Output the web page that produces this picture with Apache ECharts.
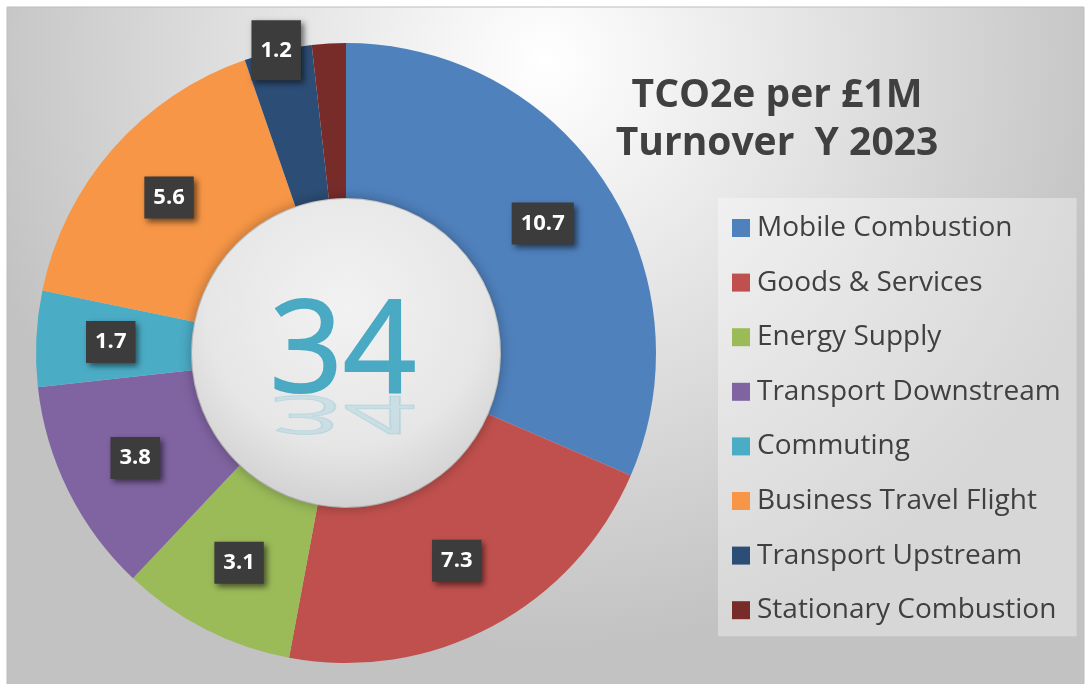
<!DOCTYPE html>
<html>
<head>
<meta charset="utf-8">
<script src="https://cdn.jsdelivr.net/npm/echarts@6/dist/echarts.min.js"></script>
<style>
  html, body { margin: 0; padding: 0; background: #ffffff; }
  #chart { width: 1088px; height: 684px; }
</style>
</head>
<body>
<div id="chart"></div>
<script>
// 数据
const categories = ['Mobile Combustion', 'Goods & Services', 'Energy Supply', 'Transport Downstream',
    'Commuting', 'Business Travel Flight', 'Transport Upstream', 'Stationary Combustion'];
const values = [10.7, 7.3, 3.1, 3.8, 1.7, 5.6, 1.2, 0.6];
const colors = ['#4f81bd', '#c0504d', '#9bbb59', '#8064a2', '#4bacc6', '#f79646', '#2c4d75', '#772c2a'];
const titleLines = ['TCO2e per £1M', 'Turnover  Y 2023'];

const myChart = echarts.init(document.getElementById('chart'));

const total = Math.round(values.reduce((s, v) => s + v, 0));

const pieData = categories.map((name, i) => {
    const item = { name: name, value: values[i], itemStyle: { color: colors[i] } };
    if (name === 'Stationary Combustion') item.label = { show: false };
    if (name === 'Transport Upstream') item.label = { offset: [-18, -73], padding: [17, 9, 17, 9] };
    return item;
});

const cx = 346, cy = 353;

const option = {
    backgroundColor: '#ffffff',
    title: {
        text: titleLines.join('\n'),
        left: 772,
        top: 67,
        textAlign: 'center',
        textStyle: {
            fontFamily: 'Open Sans',
            fontWeight: 'bold',
            fontSize: 39,
            lineHeight: 48,
            color: '#404040'
        }
    },
    legend: {
        orient: 'vertical',
        left: 718,
        top: 198,
        icon: 'rect',
        itemWidth: 18,
        itemHeight: 18,
        itemGap: 24.6,
        padding: [15, 16, 11, 14],
        backgroundColor: 'rgba(255,255,255,0.35)',
        textStyle: {
            fontFamily: 'Open Sans',
            fontSize: 28,
            lineHeight: 30,
            color: '#404040',
            padding: [0, 0, 0, 2]
        },
        data: categories
    },
    graphic: [
        {
            type: 'rect',
            z: -10,
            silent: true,
            shape: { x: 7, y: 7, width: 1077, height: 690 },
            style: {
                fill: {
                    type: 'radial', x: 0.5, y: 0.08, r: 0.85,
                    colorStops: [
                        { offset: 0, color: '#ffffff' },
                        { offset: 0.55, color: '#dedede' },
                        { offset: 1, color: '#c2c2c2' }
                    ]
                },
                stroke: '#bdbdbd',
                lineWidth: 1
            }
        },
        {
            type: 'circle',
            z: 100,
            silent: true,
            shape: { cx: cx, cy: cy, r: 154 },
            style: {
                fill: {
                    type: 'radial', x: 0.5, y: 0.35, r: 0.65,
                    colorStops: [
                        { offset: 0, color: '#f2f2f2' },
                        { offset: 0.7, color: '#e6e6e6' },
                        { offset: 1, color: '#d2d2d2' }
                    ]
                },
                shadowBlur: 14,
                shadowColor: 'rgba(0,0,0,0.35)'
            }
        },
        {
            // 倒影
            type: 'text',
            z: 101,
            silent: true,
            x: 343,
            y: 384,
            scaleY: -0.42,
            style: {
                text: String(total),
                textAlign: 'center',
                textVerticalAlign: 'bottom',
                fontFamily: 'Open Sans',
                fontSize: 128,
                fontWeight: 'normal',
                fill: 'rgba(110,190,212,0.25)',
                stroke: 'rgba(110,190,212,0.25)',
                lineWidth: 2
            }
        },
        {
            type: 'text',
            z: 102,
            silent: true,
            x: 343,
            y: 420,
            style: {
                text: String(total),
                textAlign: 'center',
                textVerticalAlign: 'bottom',
                fontFamily: 'Open Sans',
                fontSize: 128,
                fontWeight: 'normal',
                fill: '#4aa9c3',
                stroke: '#4aa9c3',
                lineWidth: 2
            }
        }
    ],
    series: [{
        name: 'TCO2e',
        type: 'pie',
        center: [cx, cy],
        radius: [155, 310],
        startAngle: 90,
        clockwise: true,
        avoidLabelOverlap: false,
        silent: true,
        label: {
            show: true,
            position: 'inside',
            formatter: '{c}',
            color: '#ffffff',
            fontFamily: 'Open Sans',
            fontWeight: 'bold',
            fontSize: 22,
            lineHeight: 26,
            backgroundColor: '#3c3c3c',
            padding: [8, 9, 8, 9],
            shadowBlur: 6,
            shadowColor: 'rgba(0,0,0,0.55)',
            shadowOffsetX: 3,
            shadowOffsetY: 3
        },
        labelLine: { show: false },
        itemStyle: { borderWidth: 0 },
        data: pieData
    }],
    animation: false
};

myChart.setOption(option);
</script>
</body>
</html>
